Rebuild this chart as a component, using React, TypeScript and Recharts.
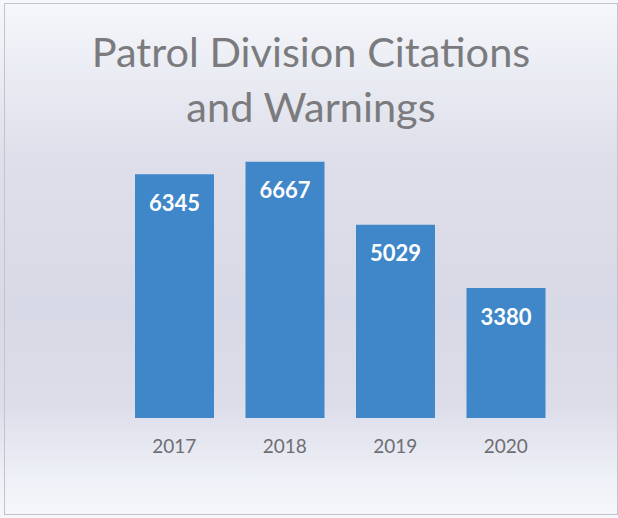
import { BarChart, Bar, XAxis, YAxis, LabelList } from 'recharts';

const years = ['2017', '2018', '2019', '2020'];
const counts = [6345, 6667, 5029, 3380];

const data = years.map((year, i) => ({ year, count: counts[i] }));

const BAR_COLOR = '#3f87c9';

export default function App() {
  return (
    <div
      style={{
        position: 'absolute',
        left: 0,
        top: 0,
        width: 618,
        height: 518,
        overflow: 'hidden',
        background:
          'linear-gradient(180deg, #f6f7fb 0%, #eceef5 12%, #dedfea 30%, #d8d9e6 60%, #dcdde9 78%, #eef0f7 92%, #f6f7fb 100%)',
      }}
    >
      <div
        style={{
          position: 'absolute',
          left: 4,
          top: 3,
          width: 614,
          height: 512,
          border: '1px solid #c4c4c8',
          boxSizing: 'border-box',
        }}
      />
      <div
        style={{
          position: 'absolute',
          left: 0,
          top: 24,
          width: 622,
          textAlign: 'center',
          fontFamily: 'Lato, sans-serif',
          fontSize: 41.5,
          lineHeight: '55px',
          color: '#7b7b7e',
        }}
      >
        Patrol Division Citations
        <br />
        and Warnings
      </div>
      <div style={{ position: 'absolute', left: 0, top: 0 }}>
        <BarChart
          width={618}
          height={518}
          data={data}
          margin={{ top: 149, right: 57, bottom: 70, left: 119 }}
          barSize={79}
        >
          <XAxis
            dataKey="year"
            axisLine={false}
            tickLine={false}
            tickSize={0}
            tickMargin={22}
            height={30}
            tick={{ fill: '#6e6e72', fontSize: 19, fontFamily: 'Lato, sans-serif' }}
          />
          <YAxis hide domain={[0, 7000]} />
          <Bar dataKey="count" fill={BAR_COLOR} isAnimationActive={false}>
            <LabelList
              dataKey="count"
              position="insideTop"
              offset={21}
              fill="#ffffff"
              style={{ fontSize: 22, fontWeight: 700, fontFamily: 'Lato, sans-serif' }}
            />
          </Bar>
        </BarChart>
      </div>
    </div>
  );
}
